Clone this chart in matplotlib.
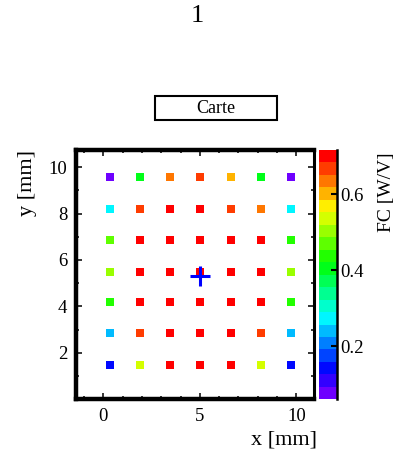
import colorsys
import numpy as np
import matplotlib
matplotlib.use('Agg')
import matplotlib.pyplot as plt
from matplotlib.colors import ListedColormap, BoundaryNorm
from matplotlib.patches import Rectangle
from matplotlib.ticker import MultipleLocator, FixedLocator

plt.rcParams['font.family'] = ['Liberation Serif', 'DejaVu Serif']

# pad centres in mm
x_pos = [0.35, 1.9, 3.45, 5.0, 6.6, 8.15, 9.7]
y_pos = [9.57, 8.21, 6.86, 5.5, 4.19, 2.86, 1.48]

# FC [W/V] per pad, rows from top to bottom
fc_rows = [
    [0.076, 0.404, 0.634, 0.667, 0.601, 0.404, 0.076],
    [0.273, 0.667, 0.700, 0.700, 0.667, 0.634, 0.273],
    [0.470, 0.700, 0.700, 0.700, 0.700, 0.700, 0.437],
    [0.502, 0.700, 0.700, 0.700, 0.700, 0.700, 0.502],
    [0.437, 0.700, 0.700, 0.700, 0.700, 0.700, 0.437],
    [0.240, 0.667, 0.700, 0.700, 0.700, 0.667, 0.240],
    [0.142, 0.535, 0.700, 0.700, 0.700, 0.535, 0.142],
]
centre_x = [5.0]
centre_y = [5.32]

x_ticks = [0, 5, 10]
y_ticks = [2, 4, 6, 8, 10]
z_ticks = [0.2, 0.4, 0.6]

z_min, z_max, n_levels = 0.06, 0.716, 20

# rainbow palette, violet -> red
hues = np.linspace(266, 0, n_levels) / 360.0
colors = [colorsys.hls_to_rgb(h, 0.5, 1.0) for h in hues]
cmap = ListedColormap(colors)
norm = BoundaryNorm(np.linspace(z_min, z_max, n_levels + 1), n_levels)

fig = plt.figure(figsize=(3.94, 4.62), dpi=100)
ax = fig.add_axes([0.192, 0.136, 0.606, 0.539])
cax = fig.add_axes([0.8084, 0.1357, 0.0457, 0.5396])

xx, yy = np.meshgrid(x_pos, y_pos)
sc = ax.scatter(xx.ravel(), yy.ravel(), c=np.ravel(fc_rows), cmap=cmap, norm=norm,
                marker='s', s=33, linewidths=0, zorder=2)
ax.plot(centre_x, centre_y, marker='+', ms=14, mew=2.2, color='blue', ls='none', zorder=3)

ax.set_xlim(-1.43, 10.93)
ax.set_ylim(0, 10.73)
ax.xaxis.set_major_locator(FixedLocator(x_ticks))
ax.xaxis.set_minor_locator(MultipleLocator(1))
ax.yaxis.set_major_locator(FixedLocator(y_ticks))
ax.yaxis.set_minor_locator(MultipleLocator(1))
ax.tick_params(which='both', direction='in', top=True, right=True, width=1.1, labelsize=13.5)
ax.tick_params(which='major', length=4)
ax.tick_params(which='minor', length=2.4)
ax.tick_params(axis='x', pad=6)
ax.tick_params(axis='y', pad=6)
for side in ['left', 'top', 'bottom']:
    ax.spines[side].set_linewidth(3.2)
ax.spines['right'].set_linewidth(2.2)

ax.set_xlabel('x [mm]', fontsize=16, loc='right')
ax.xaxis.set_label_coords(1.01, -0.125)
ax.set_ylabel('y [mm]', fontsize=16, loc='top')
ax.yaxis.set_label_coords(-0.16, 1.0)

cb = fig.colorbar(sc, cax=cax, ticks=z_ticks)
cb.outline.set_visible(False)
cax.spines['right'].set_visible(True)
cax.spines['right'].set_linewidth(1.8)
cax.tick_params(direction='in', length=4, width=1.5, labelsize=13.5, pad=3)
cax.minorticks_off()
cax.set_yticklabels([f'{t:.1f}' for t in z_ticks])

fig.text(0.98, 0.671, 'FC [W/V]', rotation=90, ha='center', va='top', fontsize=14)

# title and box
fig.text(0.5, 0.965, '1', ha='center', va='center', fontsize=19)
fig.add_artist(Rectangle((0.3934, 0.740), 0.3096, 0.052, transform=fig.transFigure,
                         fc='white', ec='black', lw=1.5))
fig.text(0.548, 0.766, 'Carte', ha='center', va='center', fontsize=13)

fig.savefig('out.png', dpi=100)
